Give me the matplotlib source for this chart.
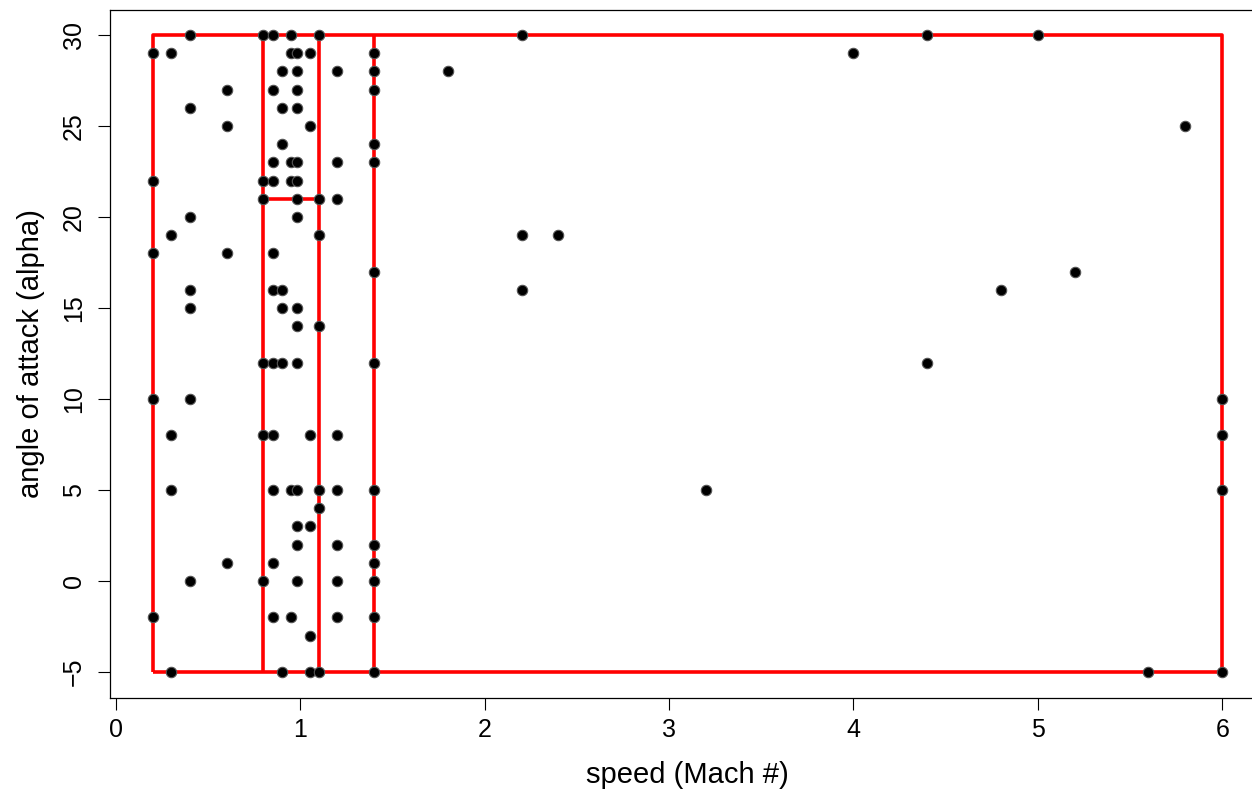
import matplotlib
matplotlib.use("Agg")
import matplotlib.pyplot as plt

# observed design points: mach -> list of alpha values
mach_vals = [0.2, 0.3, 0.4, 0.6, 0.8, 0.85, 0.9, 0.95, 0.98, 1.05, 1.1, 1.2, 1.4,
             1.8, 2.2, 2.4, 3.2, 4.0, 4.4, 4.8, 5.0, 5.2, 5.6, 5.8, 6.0]
alpha_by_mach = [
    [29, 22, 18, 10, -2],
    [29, 19, 8, 5, -5],
    [30, 26, 20, 16, 15, 10, 0],
    [27, 25, 18, 1],
    [30, 22, 21, 12, 8, 0],
    [30, 27, 23, 22, 18, 16, 12, 8, 5, 1, -2],
    [28, 26, 24, 16, 15, 12, -5],
    [30, 29, 23, 22, 5, -2],
    [29, 28, 27, 26, 23, 22, 21, 20, 15, 14, 12, 5, 3, 2, 0],
    [29, 25, 8, 3, -3, -5],
    [30, 21, 19, 14, 5, 4, -5],
    [28, 23, 21, 8, 5, 2, 0, -2],
    [29, 28, 27, 24, 23, 17, 12, 5, 2, 1, 0, -2, -5],
    [28],
    [30, 19, 16],
    [19],
    [5],
    [29],
    [30, 12],
    [16],
    [30],
    [17],
    [-5],
    [25],
    [10, 8, 5, -5],
]

# tree partitions
outer_box = (0.2, 6.0, -5, 30)   # x0, x1, y0, y1
x_splits = [0.8, 1.1, 1.4]
y_split = 21
y_split_range = (0.8, 1.1)

speed = []
alpha = []
for m, alist in zip(mach_vals, alpha_by_mach):
    for a in alist:
        speed.append(m)
        alpha.append(a)

plt.rcParams["font.family"] = ["Liberation Sans", "DejaVu Sans"]

fig = plt.figure(figsize=(12.52, 7.94), dpi=100)
ax = fig.add_axes([110 / 1252, 96.5 / 794, 1155 / 1252, 688 / 794])

# partitions
x0, x1, y0, y1 = outer_box
red = dict(color="#ff0000", lw=2.6, solid_capstyle="butt", zorder=2)
ax.plot([x0, x1, x1, x0, x0], [y0, y0, y1, y1, y0], **red)
for xs in x_splits:
    ax.plot([xs, xs], [y0, y1], **red)
ax.plot(list(y_split_range), [y_split, y_split], **red)

ax.plot(speed, alpha, "o", color="black", markersize=7.5,
        markeredgecolor="#555555", markeredgewidth=0.8, zorder=3)

ax.set_xlim(-0.032, 6.232)
ax.set_ylim(-6.4, 31.4)
ax.set_xticks(range(0, 7))
ax.set_yticks(range(-5, 31, 5))
ax.tick_params(direction="out", length=8.5, width=0.8, labelsize=18)
ax.tick_params(axis="x", pad=6)
ax.tick_params(axis="y", pad=9)
for lab in ax.get_yticklabels():
    lab.set_rotation(90)
    lab.set_va("center")
for s in ax.spines.values():
    s.set_linewidth(0.9)
ax.spines["right"].set_visible(False)

ax.set_xlabel("speed (Mach #)", fontsize=21, labelpad=14)
ax.set_ylabel("angle of attack (alpha)", fontsize=21, labelpad=12)

fig.savefig("out.png", dpi=100)
